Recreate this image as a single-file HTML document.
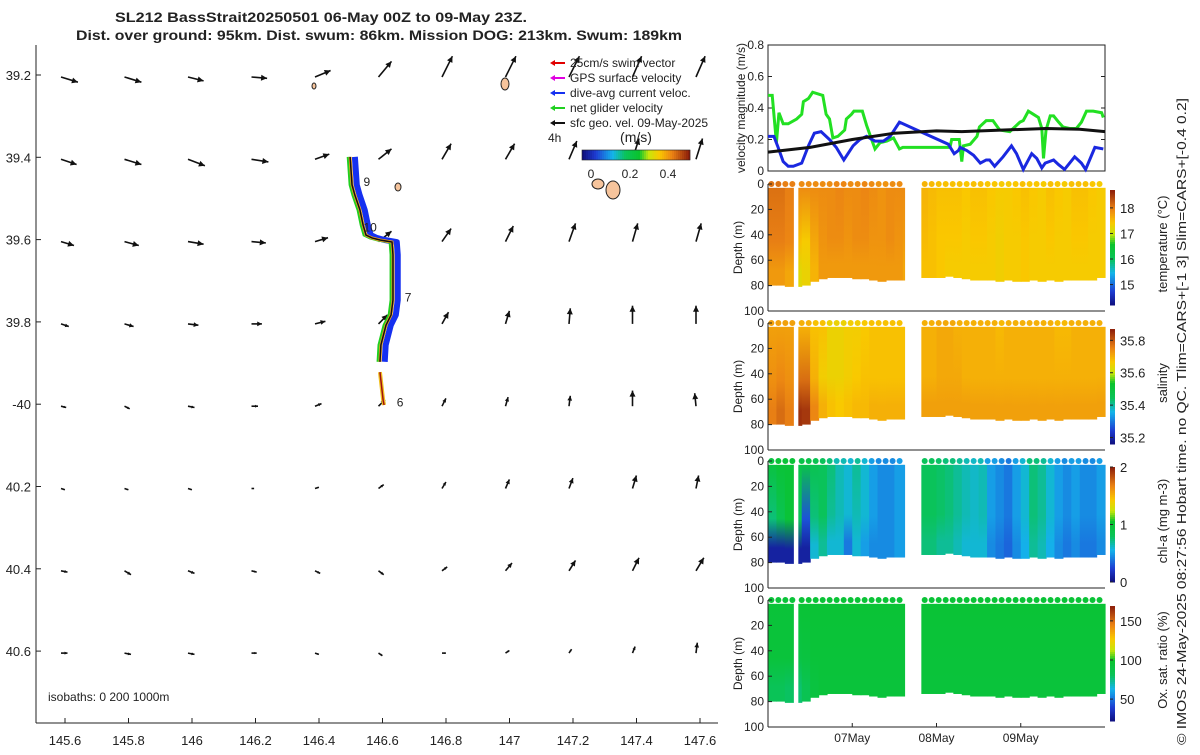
<!DOCTYPE html>
<html><head><meta charset="utf-8"><style>
body{margin:0;background:#fff;}
svg text{font-family:"Liberation Sans","DejaVu Sans",sans-serif;fill:#222;}
</style></head><body>
<svg id="c" width="1200" height="750" xmlns="http://www.w3.org/2000/svg">
<defs id="defs"></defs>
<text x="115" y="22" font-size="14" font-weight="bold" textLength="412" lengthAdjust="spacingAndGlyphs">SL212 BassStrait20250501 06-May 00Z to 09-May 23Z.</text>
<text x="76" y="40" font-size="14" font-weight="bold" textLength="606" lengthAdjust="spacingAndGlyphs">Dist. over ground: 95km. Dist. swum: 86km. Mission DOG: 213km. Swum: 189km</text>
<g id="map"></g>
<g id="right"></g>
<text transform="translate(1186,745) rotate(-90)" font-size="13" textLength="647" lengthAdjust="spacingAndGlyphs">© IMOS 24-May-2025 08:27:56 Hobart time. no QC. Tlim=CARS+[-1 3] Slim=CARS+[-0.4 0.2]</text>
</svg>
<script>
// ---------- data ----------
const lonTicks=[145.6,145.8,146,146.2,146.4,146.6,146.8,147,147.2,147.4,147.6];
const lonLabels=["145.6","145.8","146","146.2","146.4","146.6","146.8","147","147.2","147.4","147.6"];
const latTicks=[-39.2,-39.4,-39.6,-39.8,-40,-40.2,-40.4,-40.6];
const latLabels=["39.2","39.4","39.6","39.8","-40","40.2","40.4","40.6"];
const quivU=[[13,13,12,12,12,10,8,8,8,7,7],[12,13,13,13,11,10,7,7,6,5,5],[10,11,12,11,10,10,7,6,5,4,4],[6,7,8,8,8,7,5,3,1,0,0],[4,4,5,5,5,5,3,2,1,0,-1],[3,3,3,2,3,4,3,3,3,3,2],[5,5,5,4,4,4,4,5,5,5,6],[5,5,5,4,3,3,3,3,2,2,1]];
const quivV=[[-4,-4,-3,-1,5,12,16,16,16,16,16],[-4,-4,-5,-2,4,8,12,12,14,16,16],[-3,-3,-2,-1,3,8,10,12,14,14,14],[-2,-2,-1,0,2,7,9,10,12,14,14],[-1,-2,-1,0,2,5,6,7,8,12,10],[-1,-1,-1,0,1,3,5,7,8,10,10],[-1,-3,-2,-1,-2,-3,3,6,8,10,10],[0,-1,-1,0,-1,-2,0,2,3,5,8]];
const trackLon=[146.498,146.504,146.513,146.529,146.539,146.548,146.567,146.592,146.630,146.633,146.633,146.627,146.611,146.595,146.592];
const trackLat=[-39.399,-39.467,-39.492,-39.528,-39.565,-39.589,-39.596,-39.601,-39.606,-39.637,-39.747,-39.783,-39.808,-39.856,-39.897];
const track2Lon=[146.592,146.602,146.605];
const track2Lat=[-39.922,-39.990,-40.002];
const dayLabels=["9","10","7","6"];
const dayLon=[146.54,146.54,146.67,146.645];
const dayLat=[-39.47,-39.58,-39.75,-40.005];
// velocity series (days since 06-May 00Z, m/s)
const gT=[0,0.05,0.10,0.13,0.18,0.24,0.34,0.40,0.42,0.48,0.53,0.59,0.65,0.69,0.73,0.77,0.83,0.91,0.93,0.99,1.02,1.12,1.17,1.23,1.27,1.33,1.41,1.49,1.56,1.60,2.16,2.18,2.27,2.30,2.32,2.40,2.48,2.51,2.59,2.67,2.71,2.75,2.87,2.91,2.99,3.03,3.09,3.15,3.21,3.25,3.27,3.30,3.35,3.39,3.45,3.50,3.58,3.66,3.72,3.78,3.86,3.96,3.98];
const gV=[0.48,0.48,0.18,0.37,0.30,0.30,0.33,0.36,0.44,0.46,0.50,0.49,0.48,0.36,0.33,0.21,0.22,0.26,0.33,0.36,0.38,0.38,0.29,0.20,0.14,0.18,0.19,0.21,0.14,0.15,0.15,0.20,0.20,0.06,0.16,0.17,0.22,0.28,0.32,0.32,0.29,0.26,0.25,0.27,0.31,0.32,0.38,0.36,0.34,0.27,0.08,0.26,0.35,0.35,0.31,0.28,0.27,0.27,0.31,0.38,0.38,0.37,0.34];
const bT=[0,0.07,0.12,0.18,0.24,0.30,0.40,0.48,0.55,0.63,0.73,0.81,0.90,1.01,1.09,1.17,1.27,1.37,1.45,1.56,2.14,2.21,2.26,2.28,2.36,2.44,2.52,2.59,2.63,2.69,2.79,2.89,2.95,3.03,3.13,3.19,3.25,3.29,3.39,3.45,3.52,3.64,3.72,3.77,3.88,3.98];
const bV=[0.22,0.22,0.15,0.06,0.03,0.03,0.05,0.16,0.24,0.25,0.20,0.15,0.07,0.16,0.20,0.22,0.19,0.19,0.22,0.31,0.17,0.11,0.13,0.15,0.13,0.10,0.05,0.07,0.07,0.03,0.09,0.16,0.11,0.01,0.11,0.08,0.02,0.05,0.07,0.04,0.01,0.09,0.05,0.01,0.15,0.14];
const kT=[0,0.5,1.0,1.5,2.0,2.3,2.8,3.3,3.7,4.0];
const kV=[0.12,0.15,0.20,0.24,0.255,0.25,0.26,0.27,0.265,0.25];
const velTicks=[0,0.2,0.4,0.6,0.8];
// profiles: 40 columns of 0.1 day each
const segStart=[0,0.36,1.82], segEnd=[0.30,1.62,4.0];
const botDepth=[80,80,81,81,80,77,75,74,74,74,75,75,76,77,76,76,76,76,74,74,74,73,74,75,76,76,76,77,76,77,77,76,77,76,77,76,76,76,76,74];
const tempS=[18.1,18.1,18.0,17.9,17.9,17.9,17.9,17.9,17.95,17.9,17.9,17.95,17.9,17.85,17.9,17.9,17.9,17.8,17.6,17.55,17.5,17.5,17.5,17.45,17.5,17.5,17.45,17.4,17.4,17.45,17.5,17.45,17.4,17.5,17.45,17.4,17.5,17.5,17.45,17.4];
const tempM=[18.0,18.0,17.95,17.5,17.4,17.7,17.85,17.9,17.9,17.85,17.9,17.9,17.85,17.85,17.9,17.85,17.8,17.7,17.55,17.5,17.45,17.45,17.45,17.4,17.45,17.45,17.4,17.35,17.4,17.4,17.45,17.4,17.4,17.45,17.4,17.4,17.45,17.45,17.4,17.4];
const tempB=[17.8,17.8,17.7,17.2,17.3,17.6,17.8,17.8,17.8,17.8,17.8,17.8,17.8,17.8,17.8,17.8,17.7,17.6,17.5,17.5,17.45,17.4,17.4,17.4,17.4,17.4,17.4,17.35,17.4,17.4,17.45,17.4,17.4,17.4,17.4,17.4,17.4,17.4,17.4,17.4];
const salS=[35.72,35.72,35.72,35.7,35.7,35.68,35.68,35.65,35.65,35.66,35.66,35.67,35.68,35.68,35.68,35.68,35.68,35.68,35.7,35.7,35.71,35.71,35.7,35.7,35.7,35.7,35.7,35.69,35.7,35.7,35.7,35.7,35.7,35.7,35.69,35.69,35.7,35.7,35.7,35.7];
const salM=[35.74,35.75,35.74,35.78,35.78,35.7,35.66,35.65,35.65,35.66,35.67,35.68,35.68,35.68,35.68,35.68,35.68,35.68,35.7,35.7,35.71,35.71,35.71,35.7,35.7,35.7,35.7,35.7,35.7,35.7,35.7,35.7,35.7,35.7,35.7,35.7,35.7,35.7,35.7,35.7];
const salB=[35.76,35.78,35.76,35.85,35.84,35.75,35.7,35.68,35.67,35.68,35.69,35.69,35.7,35.7,35.7,35.7,35.7,35.7,35.72,35.72,35.72,35.72,35.72,35.72,35.72,35.72,35.72,35.72,35.72,35.72,35.72,35.72,35.72,35.72,35.72,35.72,35.72,35.72,35.72,35.72];
const chlS=[0.95,1.0,1.0,0.9,0.9,0.85,0.8,0.75,0.65,0.6,0.7,0.6,0.5,0.45,0.45,0.5,0.5,0.6,0.8,0.8,0.78,0.75,0.7,0.65,0.62,0.65,0.5,0.45,0.4,0.5,0.6,0.75,0.7,0.6,0.5,0.45,0.5,0.45,0.45,0.5];
const chlM=[0.75,0.85,1.0,0.8,0.3,0.75,0.8,0.7,0.65,0.6,0.65,0.6,0.5,0.45,0.45,0.5,0.5,0.6,0.8,0.8,0.78,0.75,0.7,0.65,0.62,0.65,0.5,0.45,0.4,0.5,0.6,0.75,0.7,0.6,0.5,0.45,0.5,0.45,0.45,0.5];
const chlB=[0.1,0.1,0.1,0.1,0.1,0.6,0.7,0.6,0.6,0.4,0.6,0.5,0.45,0.45,0.45,0.5,0.5,0.6,0.75,0.75,0.7,0.7,0.65,0.6,0.6,0.6,0.45,0.4,0.35,0.45,0.55,0.7,0.65,0.55,0.45,0.4,0.45,0.4,0.4,0.45];
const oxS=[95,95,95,96,96,96,96,96,96,96,96,96,96,96,96,96,96,96,96,96,96,96,96,96,96,96,96,96,96,96,96,96,96,96,96,96,96,96,96,96];
const oxM=[94,94,94,90,92,95,95,95,95,95,95,95,95,95,95,95,95,95,95,95,95,95,95,95,95,95,95,95,95,95,95,95,95,95,95,95,95,95,95,95];
const oxB=[82,82,80,78,84,92,94,94,94,94,94,94,94,94,94,94,94,94,94,94,94,94,94,94,94,94,94,94,94,94,94,94,94,94,94,94,94,94,94,94];
const dateLabels=["07May","08May","09May"];
const dateDays=[1,2,3];

// ---------- helpers ----------
const NS="http://www.w3.org/2000/svg";
function mk(tag,attrs,parent,text){const e=document.createElementNS(NS,tag);for(const k in attrs)e.setAttribute(k,attrs[k]);if(text!==undefined)e.textContent=text;parent.appendChild(e);return e;}
const stops=[[0,[15,15,125]],[0.12,[30,60,210]],[0.28,[20,180,235]],[0.40,[10,195,90]],[0.53,[10,195,45]],[0.62,[200,230,10]],[0.72,[250,200,0]],[0.84,[235,130,20]],[1,[140,30,10]]];
function cmap(f){f=Math.max(0,Math.min(1,f));for(let i=1;i<stops.length;i++){if(f<=stops[i][0]){const a=stops[i-1],b=stops[i],t=(f-a[0])/(b[0]-a[0]);const c=a[1].map((v,j)=>Math.round(v+(b[1][j]-v)*t));return `rgb(${c})`;}}return "rgb(140,30,10)";}
const svg=document.getElementById('c'), defs=document.getElementById('defs');
const map=document.getElementById('map'), right=document.getElementById('right');

// ---------- map ----------
const lonX=lon=>65+(lon-145.6)*317.5;
const latY=lat=>75+(-39.2-lat)*411.5;
mk('line',{x1:36,y1:45,x2:36,y2:723,stroke:'#222','stroke-width':1},map);
mk('line',{x1:36,y1:723,x2:718,y2:723,stroke:'#222','stroke-width':1},map);
lonTicks.forEach((v,i)=>{const x=lonX(v);
 mk('line',{x1:x,y1:723,x2:x,y2:718,stroke:'#222'},map);
 const t=mk('text',{x:x,y:745,'font-size':13,'text-anchor':'middle'},map,lonLabels[i]);
 
 });
latTicks.forEach((v,i)=>{const y=latY(v);
 mk('line',{x1:36,y1:y,x2:41,y2:y,stroke:'#222'},map);
 const t=mk('text',{x:31,y:y+5,'font-size':13,'text-anchor':'end'},map,latLabels[i]);
 
 });
// islands
[[505,84,4,6],[598,184,6,5],[613,190,7,9],[314,86,2,3],[398,187,3,4]].forEach(p=>{
 const e=mk('ellipse',{cx:p[0],cy:p[1],rx:p[2],ry:p[3],fill:'#f6c49c',stroke:'#222','stroke-width':1},map);
 
 });
// quiver
function arrow(x,y,dx,dy,col,g,w){const L=Math.hypot(dx,dy);mk('line',{x1:x,y1:y,x2:x+dx,y2:y+dy,stroke:col,'stroke-width':w||1.4},g);
 if(L<1)return;const ux=dx/L,uy=dy/L,h=Math.min(6,L*0.45);const bx=x+dx-ux*h,by=y+dy-uy*h;
 mk('polygon',{points:`${x+dx},${y+dy} ${bx-uy*h*0.5},${by+ux*h*0.5} ${bx+uy*h*0.5},${by-ux*h*0.5}`,fill:col},g);}
latTicks.forEach((la,r)=>lonTicks.forEach((lo,c)=>{
 const g=mk('g',{},map);
 
 
 arrow(lonX(lo)-4,latY(la)+2,quivU[r][c]*1.3,-quivV[r][c]*1.3,'#111',g,1.6);}));
// track
function pts(lo,la,off){return lo.map((v,i)=>`${lonX(v+(off||0))},${latY(la[i])}`).join(' ');}
const blue=mk('polyline',{points:pts(trackLon,trackLat,0.015),fill:'none',stroke:'#1530f0','stroke-width':6,'stroke-linejoin':'round'},map);


mk('polyline',{points:pts(trackLon,trackLat,-0.006),fill:'none',stroke:'#20d020','stroke-width':3},map);
const tr=mk('polyline',{points:pts(trackLon,trackLat,0),fill:'none',stroke:'#f0a020','stroke-width':3},map);


mk('polyline',{points:pts(trackLon,trackLat,0),fill:'none',stroke:'#111','stroke-width':1.5},map);
mk('polyline',{points:pts(track2Lon,track2Lat,0),fill:'none',stroke:'#f0c020','stroke-width':4},map);
mk('polyline',{points:pts(track2Lon,track2Lat,0),fill:'none',stroke:'#a01010','stroke-width':1.5},map);
dayLabels.forEach((d,i)=>{const t=mk('text',{x:lonX(dayLon[i]),y:latY(dayLat[i]),'font-size':12},map,d);
 
 });
// legend
const leg=[['#e00000','25cm/s swim vector'],['#e000e0','GPS surface velocity'],['#1530f0','dive-avg current veloc.'],['#20d020','net glider velocity'],['#111','sfc geo. vel. 09-May-2025']];
leg.forEach((l,i)=>{const y=63+i*15;const g=mk('g',{},map);
 
 
 mk('line',{x1:552,y1:y,x2:565,y2:y,stroke:l[0],'stroke-width':2},g);
 mk('polygon',{points:`550,${y} 555,${y-3} 555,${y+3}`,fill:l[0]},g);
 mk('text',{x:570,y:y+4,'font-size':12},g,l[1]);});
mk('text',{x:548,y:142,'font-size':12},map,'4h');
mk('text',{x:636,y:142,'font-size':14,'text-anchor':'middle'},map,'(m/s)');
for(let i=0;i<54;i++)mk('rect',{x:582+i*2,y:150,width:2.2,height:10,fill:cmap(i/53)},map);
mk('rect',{x:582,y:150,width:108,height:10,fill:'none',stroke:'#222','stroke-width':0.6},map);
[['0',591],['0.2',630],['0.4',668]].forEach(p=>mk('text',{x:p[1],y:178,'font-size':12,'text-anchor':'middle'},map,p[0]));
mk('text',{x:48,y:701,'font-size':12},map,'isobaths: 0   200  1000m');

// ---------- right panels ----------
const X0=768,X1=1105;
const tX=d=>X0+d*(X1-X0)/4;
// velocity
const vY=v=>171-v*(171-45)/0.8;
mk('rect',{x:X0,y:45,width:X1-X0,height:126,fill:'none',stroke:'#222'},right);
velTicks.forEach(v=>{const y=vY(v);mk('line',{x1:X0,y1:y,x2:X0+4,y2:y,stroke:'#222'},right);mk('line',{x1:X1,y1:y,x2:X1-4,y2:y,stroke:'#222'},right);
 mk('text',{x:X0-4,y:y+4,'font-size':12,'text-anchor':'end'},right,String(v));});
mk('text',{transform:'translate(745,108) rotate(-90)','font-size':12,'text-anchor':'middle'},right,'velocity magnitude (m/s)');
function line(T,V,col,name,w){const l=mk('polyline',{points:T.map((t,i)=>`${tX(t)},${vY(V[i])}`).join(' '),fill:'none',stroke:col,'stroke-width':w},right);
 
 }
line(gT,gV,'#22e022','net-glider-speed-line',3);
line(bT,bV,'#1a28e0','dive-avg-current-line',3);
line(kT,kV,'#111','geo-velocity-line',3);

// profile panels
const panels=[
 {top:184,S:tempS,M:tempM,B:tempB,lo:14.2,hi:18.7,ticks:[15,16,17,18],lab:'temperature (°C)',name:'temperature-panel'},
 {top:323,S:salS,M:salM,B:salB,lo:35.16,hi:35.87,ticks:[35.2,35.4,35.6,35.8],lab:'salinity',name:'salinity-panel'},
 {top:461,S:chlS,M:chlM,B:chlB,lo:0,hi:2,ticks:[0,1,2],lab:'chl-a (mg m-3)',name:'chl-a-panel'},
 {top:600,S:oxS,M:oxM,B:oxB,lo:22,hi:169,ticks:[50,100,150],lab:'Ox. sat. ratio (%)',name:'oxygen-panel'}];
panels.forEach((p,pi)=>{
 const g=mk('g',{},right);
 
 
 const dY=d=>p.top+d*1.27;
 const f=v=>(v-p.lo)/(p.hi-p.lo);
 for(let i=0;i<40;i++){
  let t0=i*0.1,t1=t0+0.1;
  for(let s=0;s<3;s++){const a=Math.max(t0,segStart[s]),b=Math.min(t1,segEnd[s]);if(b<=a)continue;
   const id=`gr${pi}_${i}`;
   if(!document.getElementById(id)){const lg=mk('linearGradient',{id:id,x1:0,y1:0,x2:0,y2:1},defs);
    mk('stop',{offset:'0','stop-color':cmap(f(p.S[i]))},lg);mk('stop',{offset:'0.55','stop-color':cmap(f(p.M[i]))},lg);mk('stop',{offset:'0.85','stop-color':cmap(f(p.B[i]))},lg);mk('stop',{offset:'1','stop-color':cmap(f(p.B[i]))},lg);}
   const r=mk('rect',{x:tX(a),y:dY(3),width:tX(b)-tX(a)+0.6,height:dY(botDepth[i])-dY(3),fill:`url(#${id})`},g);
   
   }
 }
 for(let s=0;s<3;s++){for(let t=segStart[s]+0.04;t<segEnd[s];t+=0.083){const i=Math.min(39,Math.floor(t/0.1));
  const c=mk('circle',{cx:tX(t),cy:dY(0),r:3,fill:cmap(f(p.S[i]))},g);
  
  }}
 mk('line',{x1:X0,y1:p.top,x2:X0,y2:dY(100),stroke:'#222'},g);
 mk('line',{x1:X0,y1:dY(100),x2:X1,y2:dY(100),stroke:'#222'},g);
 [0,20,40,60,80,100].forEach(d=>{mk('line',{x1:X0,y1:dY(d),x2:X0+4,y2:dY(d),stroke:'#222'},g);
  mk('text',{x:X0-4,y:dY(d)+4,'font-size':12,'text-anchor':'end'},g,String(d));});
 mk('text',{transform:`translate(742,${dY(50)}) rotate(-90)`,'font-size':12,'text-anchor':'middle'},g,'Depth (m)');
 if(pi===3){dateDays.forEach((d,k)=>{mk('line',{x1:tX(d),y1:dY(100),x2:tX(d),y2:dY(100)-4,stroke:'#222'},g);
  const t=mk('text',{x:tX(d),y:dY(100)+15,'font-size':12,'text-anchor':'middle'},g,dateLabels[k]);
  
  });}
 // colorbar
 const cb0=p.top+6,cb1=p.top+121,cbY=v=>cb1-(v-p.lo)/(p.hi-p.lo)*(cb1-cb0);
 const cb=mk('g',{},g);
 
 
 for(let k=0;k<58;k++)mk('rect',{x:1110,y:cb1-(k+1)*(cb1-cb0)/58,width:5,height:(cb1-cb0)/58+0.5,fill:cmap((k+0.5)/58)},cb);
 p.ticks.forEach(v=>{const y=cbY(v);mk('line',{x1:1110,y1:y,x2:1113,y2:y,stroke:'#222'},cb);
  mk('text',{x:1120,y:y+5,'font-size':13},cb,String(v));});
 mk('text',{transform:`translate(1167,${p.top+60}) rotate(-90)`,'font-size':13,'text-anchor':'middle'},cb,p.lab);
});
</script>
</body></html>
